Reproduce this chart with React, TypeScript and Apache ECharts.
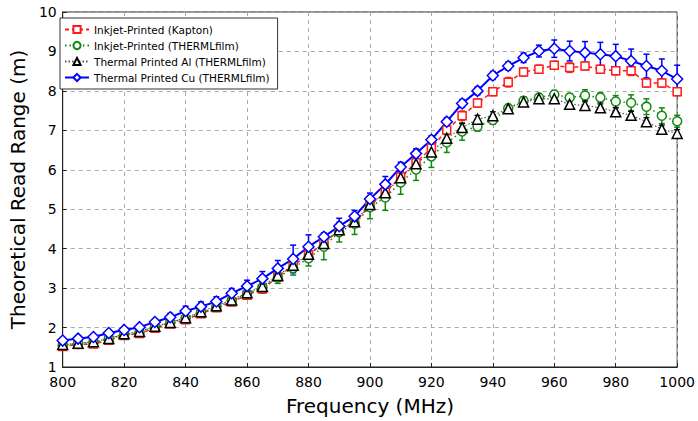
import React, { useEffect, useRef } from "react";
import * as echarts from "echarts";

const freqs = [800, 805, 810, 815, 820, 825, 830, 835, 840, 845, 850, 855, 860, 865, 870, 875, 880, 885, 890, 895, 900, 905, 910, 915, 920, 925, 930, 935, 940, 945, 950, 955, 960, 965, 970, 975, 980, 985, 990, 995, 1000];

const kaptonVals = [1.52, 1.57, 1.58, 1.68, 1.8, 1.85, 1.98, 2.09, 2.2, 2.35, 2.5, 2.65, 2.82, 2.98, 3.28, 3.58, 3.84, 4.15, 4.47, 4.67, 5.09, 5.43, 5.82, 6.18, 6.55, 7.01, 7.37, 7.69, 7.98, 8.22, 8.48, 8.55, 8.65, 8.59, 8.63, 8.55, 8.51, 8.51, 8.2, 8.2, 7.98];
const kaptonErr = [0.04, 0.04, 0.05, 0.05, 0.05, 0.05, 0.05, 0.06, 0.06, 0.07, 0.07, 0.08, 0.08, 0.1, 0.1, 0.1, 0.12, 0.1, 0.1, 0.08, 0.1, 0.1, 0.12, 0.12, 0.1, 0.12, 0.12, 0.1, 0.1, 0.12, 0.1, 0.1, 0.1, 0.12, 0.1, 0.1, 0.1, 0.12, 0.1, 0.1, 0.1];

const inkThermVals = [1.55, 1.6, 1.62, 1.72, 1.82, 1.88, 2.02, 2.12, 2.24, 2.38, 2.52, 2.68, 2.86, 3.02, 3.27, 3.51, 3.76, 4.05, 4.42, 4.63, 5.05, 5.3, 5.68, 6.01, 6.34, 6.69, 6.97, 7.1, 7.26, 7.56, 7.75, 7.83, 7.91, 7.83, 7.88, 7.83, 7.73, 7.7, 7.6, 7.37, 7.23];
const inkThermErr = [0.04, 0.05, 0.05, 0.05, 0.06, 0.06, 0.07, 0.08, 0.1, 0.1, 0.1, 0.12, 0.12, 0.14, 0.15, 0.18, 0.2, 0.33, 0.25, 0.27, 0.29, 0.33, 0.3, 0.28, 0.28, 0.25, 0.22, 0.12, 0.1, 0.1, 0.1, 0.1, 0.1, 0.1, 0.15, 0.12, 0.15, 0.2, 0.2, 0.2, 0.15];

const alVals = [1.57, 1.6, 1.64, 1.72, 1.84, 1.9, 2.03, 2.13, 2.25, 2.4, 2.55, 2.7, 2.88, 3.04, 3.32, 3.58, 3.86, 4.13, 4.48, 4.68, 5.12, 5.42, 5.8, 6.15, 6.45, 6.8, 7.07, 7.28, 7.37, 7.55, 7.72, 7.8, 7.8, 7.66, 7.63, 7.57, 7.47, 7.38, 7.22, 7.03, 6.92];
const alErr = [0.04, 0.04, 0.04, 0.04, 0.04, 0.04, 0.04, 0.05, 0.05, 0.06, 0.06, 0.06, 0.07, 0.08, 0.08, 0.08, 0.08, 0.1, 0.1, 0.1, 0.1, 0.1, 0.1, 0.1, 0.1, 0.1, 0.1, 0.1, 0.1, 0.08, 0.08, 0.08, 0.1, 0.1, 0.12, 0.1, 0.1, 0.1, 0.1, 0.1, 0.1];

const cuVals = [1.67, 1.72, 1.76, 1.86, 1.94, 2.01, 2.14, 2.26, 2.42, 2.53, 2.66, 2.87, 3.05, 3.24, 3.5, 3.74, 4.05, 4.3, 4.57, 4.82, 5.26, 5.63, 6.07, 6.41, 6.76, 7.22, 7.68, 8.0, 8.39, 8.63, 8.84, 9.01, 9.07, 9.01, 8.97, 8.93, 8.88, 8.76, 8.63, 8.51, 8.3];
const cuErr = [0.05, 0.05, 0.05, 0.06, 0.06, 0.06, 0.07, 0.1, 0.12, 0.12, 0.12, 0.12, 0.15, 0.18, 0.2, 0.35, 0.3, 0.1, 0.2, 0.15, 0.15, 0.2, 0.12, 0.12, 0.1, 0.1, 0.1, 0.1, 0.1, 0.1, 0.12, 0.15, 0.22, 0.25, 0.28, 0.3, 0.3, 0.3, 0.3, 0.3, 0.35];

const seriesNames = [
  "Inkjet-Printed (Kapton)",
  "Inkjet-Printed (THERMLfilm)",
  "Thermal Printed Al (THERMLfilm)",
  "Thermal Printed Cu (THERMLfilm)",
];

const FONT = "DejaVu Sans";

function errSeries(name: string, vals: number[], errs: number[], color: string, width: number) {
  return {
    type: "custom",
    name: name + " err",
    data: freqs.map((f, i) => [f, vals[i], errs[i]]),
    encode: { x: 0, y: 1 },
    silent: true,
    renderItem: (params: any, api: any) => {
      const x = api.value(0);
      const y = api.value(1);
      const e = api.value(2);
      const top = api.coord([x, y + e]);
      const bot = api.coord([x, y - e]);
      const cw = 3;
      const style = { stroke: color, lineWidth: width };
      return {
        type: "group",
        children: [
          { type: "line", shape: { x1: top[0], y1: top[1], x2: bot[0], y2: bot[1] }, style },
          { type: "line", shape: { x1: top[0] - cw, y1: top[1], x2: top[0] + cw, y2: top[1] }, style },
          { type: "line", shape: { x1: bot[0] - cw, y1: bot[1], x2: bot[0] + cw, y2: bot[1] }, style },
        ],
      };
    },
  };
}

function lineSeries(name: string, vals: number[], color: string, lineColor: string, symbol: string, size: number, lineType: any, lineWidth: number) {
  return {
    type: "line",
    name,
    data: freqs.map((f, i) => [f, vals[i]]),
    symbol,
    symbolSize: size,
    showSymbol: true,
    itemStyle: { color: "#ffffff", borderColor: color, borderWidth: 1.5 },
    lineStyle: { color: lineColor, type: lineType, width: lineWidth },
  };
}

export default function App() {
  const ref = useRef<HTMLDivElement>(null);
  useEffect(() => {
    if (!ref.current) return;
    const chart = echarts.init(ref.current, undefined, { renderer: "svg" });
    const red = "#ff1a1a";
    const green = "#118811";
    const black = "#000000";
    const blue = "#0000ff";
    chart.setOption({
      animation: false,
      backgroundColor: "#ffffff",
      grid: {
        left: 56,
        right: 15,
        top: 12,
        bottom: 49,
        show: true,
        borderColor: "#222",
        borderWidth: 1,
        backgroundColor: "transparent",
      },
      legend: {
        data: seriesNames,
        orient: "vertical",
        left: 60,
        top: 18,
        backgroundColor: "#ffffff",
        borderColor: "#333",
        borderWidth: 1,
        padding: [6, 8, 6, 4],
        itemWidth: 24,
        itemHeight: 9,
        itemGap: 5,
        textStyle: { fontFamily: FONT, fontSize: 10.5, color: "#000" },
      },
      xAxis: {
        type: "value",
        min: 800,
        max: 1000,
        interval: 20,
        name: "Frequency (MHz)",
        nameLocation: "middle",
        nameGap: 29,
        nameTextStyle: { fontFamily: FONT, fontSize: 20, color: "#000" },
        axisLine: { show: true, lineStyle: { color: "#222" } },
        axisTick: { show: true, inside: true, length: 4, lineStyle: { color: "#222" } },
        axisLabel: { fontFamily: FONT, fontSize: 14, color: "#000", margin: 8, formatter: (v: number) => String(v) },
        splitLine: { show: true, lineStyle: { color: "#aaa", type: [4, 4], width: 1 } },
      },
      yAxis: {
        type: "value",
        min: 1,
        max: 10,
        interval: 1,
        name: "Theoretical Read Range (m)",
        nameLocation: "middle",
        nameGap: 26,
        nameTextStyle: { fontFamily: FONT, fontSize: 20, color: "#000" },
        axisLine: { show: true, lineStyle: { color: "#222" } },
        axisTick: { show: true, inside: true, length: 4, lineStyle: { color: "#222" } },
        axisLabel: { fontFamily: FONT, fontSize: 14, color: "#000", margin: 6 },
        splitLine: { show: true, lineStyle: { color: "#aaa", type: [4, 4], width: 1 } },
      },
      series: [
        errSeries(seriesNames[0], kaptonVals, kaptonErr, red, 1.5),
        lineSeries(seriesNames[0], kaptonVals, red, red, "rect", 8, [4, 3], 1.5),
        errSeries(seriesNames[1], inkThermVals, inkThermErr, green, 1.5),
        lineSeries(seriesNames[1], inkThermVals, green, green, "circle", 9, [1.5, 3], 1.5),
        errSeries(seriesNames[2], alVals, alErr, black, 1.2),
        lineSeries(seriesNames[2], alVals, black, "#555", "triangle", 10, [1.5, 2], 1.2),
        errSeries(seriesNames[3], cuVals, cuErr, blue, 1.5),
        lineSeries(seriesNames[3], cuVals, blue, blue, "diamond", 11, "solid", 2),
      ],
    });
    return () => chart.dispose();
  }, []);
  return (
    <div
      ref={ref}
      style={{ position: "fixed", left: 0, top: 0, width: 698, height: 421, background: "#fff" }}
    />
  );
}
